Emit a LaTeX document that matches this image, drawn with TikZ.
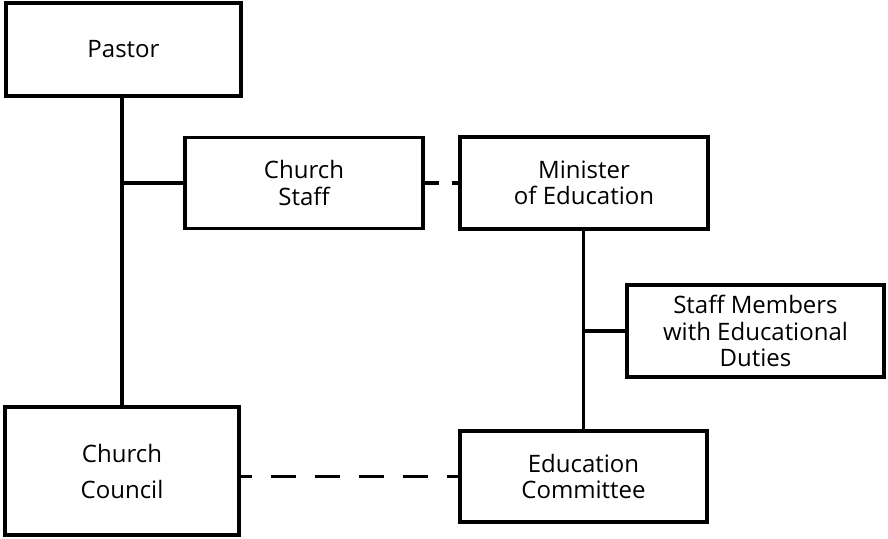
\documentclass[tikz,border=0pt]{standalone}
\usepackage{fontspec}
\setmainfont{Open Sans}
\begin{document}
\begin{tikzpicture}[x=1pt,y=-1pt,
  orgbox/.style={draw=black, line width=3.2pt, fill=white, rectangle, inner sep=0pt,
    align=center, font=\fontsize{24}{26.5}\selectfont, text=black},
  link/.style={line width=3.2pt, black}]
\useasboundingbox (0,0) rectangle (888,538);
\fill[white] (0,0) rectangle (888,538);

% boxes
\node[orgbox, minimum width=235pt, minimum height=93pt] (pastor) at (123.5,49.5) {Pastor};
\node[orgbox, minimum width=238pt, minimum height=91pt] (staff) at (304,183) {Church\\Staff};
\node[orgbox, minimum width=248pt, minimum height=92pt] (minister) at (584,183) {Minister\\of Education};
\node[orgbox, minimum width=257pt, minimum height=92pt] (members) at (755.5,331) {Staff Members\\with Educational\\Duties};
\node[orgbox, minimum width=234pt, minimum height=128pt, font=\fontsize{24}{36}\selectfont] (council) at (122,471) {Church\\Council};
\node[orgbox, minimum width=247pt, minimum height=91pt] (educom) at (583.5,476.5) {Education\\Committee};

% junction points on the vertical lines
\coordinate (jstaff) at (council.north |- staff.west);
\coordinate (jmembers) at (educom.north |- members.west);

% solid lines of authority
\draw[link] (council.north |- pastor.south) -- (council.north);
\draw[link] (jstaff) -- (staff.west);
\draw[link] (educom.north |- minister.south) -- (educom.north);
\draw[link] (jmembers) -- (members.west);

% dashed lines of cooperation
\draw[link, dash pattern=on 14pt off 13pt] (staff.east) -- (minister.west);
\draw[link, dash pattern=on 25pt off 19pt, dash phase=14pt] (council.east |- educom.west) -- (educom.west);
\end{tikzpicture}
\end{document}
